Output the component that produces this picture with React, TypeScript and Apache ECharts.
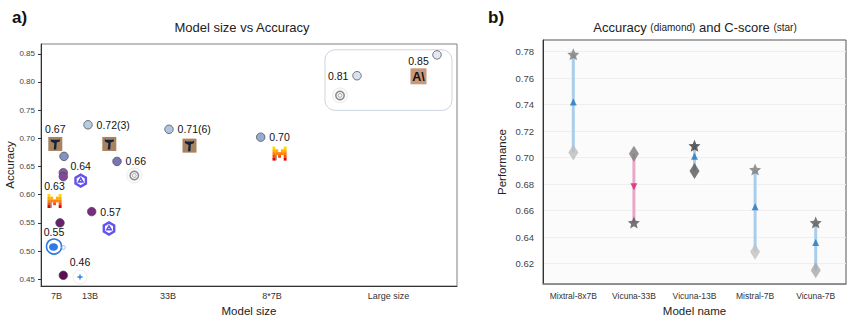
import { useEffect, useRef } from "react";
import * as echarts from "echarts";

// ---------- Panel a) data ----------
const SIZE_LABELS = ["7B", "13B", "33B", "8*7B", "Large size"];
const SIZE_POS = [15.5, 49, 127, 231, 347.5];
const ACC_TICKS = [0.45, 0.5, 0.55, 0.6, 0.65, 0.7, 0.75, 0.8, 0.85];

const DOT_X = [23, 22.3, 22.3, 19, 22.3, 47, 50.7, 76, 128, 219.7, 316, 396];
const DOT_Y = [0.668, 0.639, 0.632, 0.550, 0.457, 0.724, 0.570, 0.659, 0.716, 0.702, 0.811, 0.848];
const DOT_TEXT = ["", "", "", "", "", "0.72(3)", "0.57", "0.66", "0.71(6)", "0.70", "0.81", ""];

const LOGO_KIND = ["vicuna", "qwen", "mistral", "elephant", "gemini", "vicuna", "qwen", "openai", "vicuna", "mistral", "openai", "anthropic"];
const LOGO_X = [14.3, 39.7, 13.5, 13, 39, 68.3, 68, 93.3, 148.5, 238.5, 299, 377.5];
const LOGO_Y = [0.690, 0.625, 0.589, 0.508, 0.454, 0.690, 0.540, 0.634, 0.687, 0.673, 0.776, 0.810];
const LOGO_TEXT = ["0.67", "0.64", "0.63", "0.55", "0.46", "", "", "", "", "", "", "0.85"];

// inset box corners [x0, yTop, x1, yBottom] in data units
const INSET_BOX = [284, 0.857, 411, 0.7495];

// ---------- Panel b) data ----------
const MODELS = ["Mixtral-8x7B", "Vicuna-33B", "Vicuna-13B", "Mistral-7B", "Vicuna-7B"];
const ACCURACY = [0.704, 0.703, 0.690, 0.629, 0.615];
const CSCORE = [0.778, 0.651, 0.709, 0.691, 0.651];
const MIDPOINT = [0.742, 0.678, 0.701, 0.663, 0.636];
const PERF_TICKS = [0.62, 0.64, 0.66, 0.68, 0.7, 0.72, 0.74, 0.76, 0.78];

// ---------- styles ----------
const DOT_COLORS = ["#8592c6", "#8a58a6", "#7f4a9b", "#6b1f70", "#5c0e54", "#b8cbe4", "#7a2c82", "#7676b6", "#b0c5e2", "#97abd0", "#d7e1ef", "#e3e9f3"];
const DOT_SIDE = ["right", "right", "right", "right", "right", "right", "right", "right", "right", "right", "left", "right"];
const DIAMOND_COLORS = ["#bdbdbd", "#7a7a7a", "#575757", "#c2c2c2", "#a9a9a9"];
const STAR_COLORS = ["#7a7a7a", "#555555", "#3a3a3a", "#7a7a7a", "#555555"];
const STAR_PATH = "path://M12 1.5l3.1 7.1 7.6.7-5.8 5 1.8 7.5L12 17.8l-6.7 4 1.8-7.5-5.8-5 7.6-.7z";
const FONT = "'Liberation Sans', Arial, sans-serif";

function logoChildren(kind: string): any[] {
  switch (kind) {
    case "vicuna":
      return [
        { type: "rect", shape: { x: -7, y: -7, width: 14, height: 14 }, style: { fill: "#a7835f" } },
        {
          type: "polygon",
          shape: { points: [[-4.6, -4.8], [-3.2, -4.2], [3.2, -4.2], [4.6, -4.8], [4.4, -2.4], [1.4, -1.4], [0.9, 5.6], [-1.6, 5.6], [-0.9, -0.6], [-2.8, -1.6], [-4.4, -2.4]] },
          style: { fill: "#16213a" },
        },
      ];
    case "mistral": {
      const rows = ["X...X", "XX.XX", "XXXXX", "X.X.X", "X...X"];
      const cols = ["#ffd800", "#ffaf00", "#ff8205", "#fa500f", "#e10500"];
      const u = 2.8;
      const out: any[] = [];
      rows.forEach((r, ri) => {
        for (let c = 0; c < 5; c++) {
          if (r[c] === "X") {
            out.push({ type: "rect", shape: { x: -7 + c * u, y: -7 + ri * u, width: u + 0.1, height: u + 0.1 }, style: { fill: cols[ri] } });
          }
        }
      });
      out.push({ type: "rect", shape: { x: -7 + 1 * u, y: -7 + 3 * u, width: u * 0.5, height: u * 2 }, style: { fill: "#222", opacity: 0.55 } });
      return out;
    }
    case "qwen": {
      const pts: number[][] = [];
      for (let k = 0; k < 6; k++) {
        const a = (Math.PI / 3) * k + Math.PI / 6;
        pts.push([6 * Math.cos(a), 6 * Math.sin(a)]);
      }
      const tri: number[][] = [];
      for (let k = 0; k < 3; k++) {
        const a = ((2 * Math.PI) / 3) * k - Math.PI / 2;
        tri.push([2.6 * Math.cos(a), 2.6 * Math.sin(a)]);
      }
      return [
        { type: "polygon", shape: { points: pts }, style: { fill: "none", stroke: "#6253ee", lineWidth: 2.4 } },
        { type: "polygon", shape: { points: tri }, style: { fill: "none", stroke: "#6253ee", lineWidth: 1.6 } },
      ];
    }
    case "elephant":
      return [
        { type: "circle", shape: { cx: 0, cy: 0, r: 7.5 }, style: { fill: "#ffffff", stroke: "#2f7ae5", lineWidth: 1.6 } },
        { type: "ellipse", shape: { cx: -0.5, cy: 0.5, rx: 4.5, ry: 3.8 }, style: { fill: "#2f7ae5" } },
        { type: "circle", shape: { cx: 9.5, cy: 1, r: 1.8 }, style: { fill: "none", stroke: "#8fb4ee", lineWidth: 1 } },
      ];
    case "gemini":
      return [
        { type: "circle", shape: { cx: 0, cy: 0, r: 7 }, style: { fill: "#ffffff", stroke: "#ececec", lineWidth: 1 } },
        { type: "polygon", shape: { points: [[0, -3.6], [0.9, -0.9], [3.6, 0], [0.9, 0.9], [0, 3.6], [-0.9, 0.9], [-3.6, 0], [-0.9, -0.9]] }, style: { fill: "#3f86e8" } },
      ];
    case "openai":
      return [
        { type: "circle", shape: { cx: 0, cy: 0, r: 7.5 }, style: { fill: "#fafafa", stroke: "#ececec", lineWidth: 1 } },
        { type: "circle", shape: { cx: 0, cy: 0, r: 4.2 }, style: { fill: "none", stroke: "#8a8a8a", lineWidth: 1.5 } },
        { type: "circle", shape: { cx: 0, cy: 0, r: 1.9 }, style: { fill: "none", stroke: "#a0a0a0", lineWidth: 1 } },
      ];
    case "anthropic":
      return [
        { type: "rect", shape: { x: -8, y: -8, width: 16, height: 16 }, style: { fill: "#c9987a" } },
        { type: "text", style: { text: "A\\", x: 0, y: 0.5, align: "center", verticalAlign: "middle", font: `900 12.5px ${FONT}`, fill: "#111" } },
      ];
  }
  return [];
}

export default function App() {
  const ref = useRef<HTMLDivElement>(null);
  useEffect(() => {
    if (!ref.current) return;
    const chart = echarts.init(ref.current, undefined, { renderer: "svg" });

    const option: any = {
      animation: false,
      backgroundColor: "#ffffff",
      textStyle: { fontFamily: FONT },
      graphic: [
        { type: "text", x: 12, y: 17, style: { text: "a)", font: `bold 17px ${FONT}`, fill: "#111", verticalAlign: "middle" } },
        { type: "text", x: 242, y: 27, style: { text: "Model size vs Accuracy", font: `13px ${FONT}`, fill: "#222", align: "center", verticalAlign: "middle" } },
        { type: "text", x: 488, y: 17, style: { text: "b)", font: `bold 17px ${FONT}`, fill: "#111", verticalAlign: "middle" } },
        {
          type: "text",
          x: 695,
          y: 27,
          style: {
            text: "{m|Accuracy }{s|(diamond)}{m| and C-score }{s|(star)}",
            align: "center",
            verticalAlign: "middle",
            rich: {
              m: { fontSize: 13, fontFamily: FONT, fill: "#222" },
              s: { fontSize: 10, fontFamily: FONT, fill: "#222" },
            },
          },
        },
      ],
      grid: [
        { left: 41, top: 44, width: 416, height: 248, show: true, borderColor: "#808080", borderWidth: 1, backgroundColor: "transparent" },
        { left: 543, top: 40, width: 303, height: 251, show: true, borderColor: "#555", borderWidth: 1, backgroundColor: "#fbfbfb" },
      ],
      xAxis: [
        {
          gridIndex: 0,
          type: "value",
          min: 0,
          max: 416,
          axisLine: { show: true, lineStyle: { color: "#333", width: 1 } },
          axisTick: { show: false },
          splitLine: { show: false },
          axisLabel: {
            customValues: SIZE_POS,
            formatter: (v: number) => {
              const i = SIZE_POS.indexOf(v);
              return i >= 0 ? SIZE_LABELS[i] : "";
            },
            fontSize: 9,
            color: "#333",
            margin: 5,
          },
          name: "Model size",
          nameLocation: "middle",
          nameGap: 19,
          nameTextStyle: { fontSize: 11.5, color: "#222" },
        },
        {
          gridIndex: 1,
          type: "category",
          data: MODELS,
          boundaryGap: true,
          axisLine: { show: true, lineStyle: { color: "#888", width: 1.5 } },
          axisTick: { show: false },
          axisLabel: { fontSize: 8.5, color: "#333", margin: 7, interval: 0 },
          name: "Model name",
          nameLocation: "middle",
          nameGap: 20,
          nameTextStyle: { fontSize: 11.5, color: "#222" },
        },
      ],
      yAxis: [
        {
          gridIndex: 0,
          type: "value",
          min: 0.438,
          max: 0.8673,
          axisLine: { show: true, lineStyle: { color: "#333", width: 1 } },
          axisTick: { show: true, length: 3, customValues: ACC_TICKS, lineStyle: { color: "#333" } },
          splitLine: { show: false },
          axisLabel: { customValues: ACC_TICKS, formatter: (v: number) => v.toFixed(2), fontSize: 8, color: "#444", margin: 6 },
          name: "Accuracy",
          nameLocation: "middle",
          nameGap: 24,
          nameTextStyle: { fontSize: 11.5, color: "#222" },
        },
        {
          gridIndex: 1,
          type: "value",
          min: 0.6046,
          max: 0.7888,
          axisLine: { show: true, lineStyle: { color: "#333", width: 1 } },
          axisTick: { show: false, customValues: PERF_TICKS },
          splitLine: { show: true, lineStyle: { color: "#efefef", width: 1 } },
          axisLabel: { customValues: PERF_TICKS, formatter: (v: number) => v.toFixed(2), fontSize: 9.5, color: "#444", margin: 9 },
          name: "Performance",
          nameLocation: "middle",
          nameGap: 35,
          nameTextStyle: { fontSize: 11.5, color: "#222" },
        },
      ],
      series: [
        // inset rounded box
        {
          type: "custom",
          xAxisIndex: 0,
          yAxisIndex: 0,
          silent: true,
          data: [INSET_BOX],
          encode: { x: [0, 2], y: [1, 3] },
          renderItem: (_p: any, api: any) => {
            const p0 = api.coord([api.value(0), api.value(1)]);
            const p1 = api.coord([api.value(2), api.value(3)]);
            return {
              type: "rect",
              shape: { x: p0[0], y: p0[1], width: p1[0] - p0[0], height: p1[1] - p0[1], r: 10 },
              style: { fill: "none", stroke: "#cdd4de", lineWidth: 1 },
            };
          },
        },
        // logos with labels
        {
          type: "custom",
          xAxisIndex: 0,
          yAxisIndex: 0,
          silent: true,
          data: LOGO_X.map((x, i) => [x, LOGO_Y[i], i]),
          renderItem: (_p: any, api: any) => {
            const i = api.value(2);
            const p = api.coord([api.value(0), api.value(1)]);
            const children = logoChildren(LOGO_KIND[i]);
            if (LOGO_TEXT[i]) {
              children.push({
                type: "text",
                style: { text: LOGO_TEXT[i], x: 0, y: -15, align: "center", verticalAlign: "middle", font: `10.5px ${FONT}`, fill: "#111" },
              });
            }
            return { type: "group", x: p[0], y: p[1], children };
          },
        },
        // dots
        {
          type: "scatter",
          xAxisIndex: 0,
          yAxisIndex: 0,
          symbolSize: 8.5,
          z: 3,
          itemStyle: { borderColor: "#444", borderWidth: 0.7, opacity: 1 },
          data: DOT_X.map((x, i) => ({
            value: [x, DOT_Y[i]],
            itemStyle: { color: DOT_COLORS[i] },
            label: {
              show: DOT_TEXT[i] !== "",
              formatter: DOT_TEXT[i],
              position: DOT_SIDE[i],
              distance: 4,
              fontSize: 10.5,
              color: "#111",
            },
          })),
        },
        // connecting lines
        {
          type: "custom",
          xAxisIndex: 1,
          yAxisIndex: 1,
          silent: true,
          data: MODELS.map((_m, i) => [i, CSCORE[i], ACCURACY[i]]),
          renderItem: (_p: any, api: any) => {
            const p0 = api.coord([api.value(0), api.value(1)]);
            const p1 = api.coord([api.value(0), api.value(2)]);
            const up = api.value(1) >= api.value(2);
            return {
              type: "line",
              shape: { x1: p0[0], y1: p0[1], x2: p1[0], y2: p1[1] },
              style: { stroke: up ? "#a9cdea" : "#e8a9c9", lineWidth: 3 },
            };
          },
        },
        // diamonds (accuracy)
        {
          type: "scatter",
          xAxisIndex: 1,
          yAxisIndex: 1,
          symbol: "diamond",
          symbolSize: [10, 16],
          data: ACCURACY.map((v, i) => ({ value: [i, v], itemStyle: { color: DIAMOND_COLORS[i] } })),
        },
        // stars (c-score)
        {
          type: "scatter",
          xAxisIndex: 1,
          yAxisIndex: 1,
          symbol: STAR_PATH,
          symbolSize: 12,
          data: CSCORE.map((v, i) => ({ value: [i, v], itemStyle: { color: STAR_COLORS[i] } })),
        },
        // triangles (midpoint)
        {
          type: "scatter",
          xAxisIndex: 1,
          yAxisIndex: 1,
          symbol: "triangle",
          symbolSize: 7,
          data: MIDPOINT.map((v, i) => {
            const up = CSCORE[i] >= ACCURACY[i];
            return { value: [i, v], symbolRotate: up ? 0 : 180, itemStyle: { color: up ? "#1f78c1" : "#d6246e" } };
          }),
        },
      ],
    };

    chart.setOption(option);
    return () => chart.dispose();
  }, []);

  return <div ref={ref} style={{ position: "fixed", left: 0, top: 0, width: 847, height: 322 }} />;
}
